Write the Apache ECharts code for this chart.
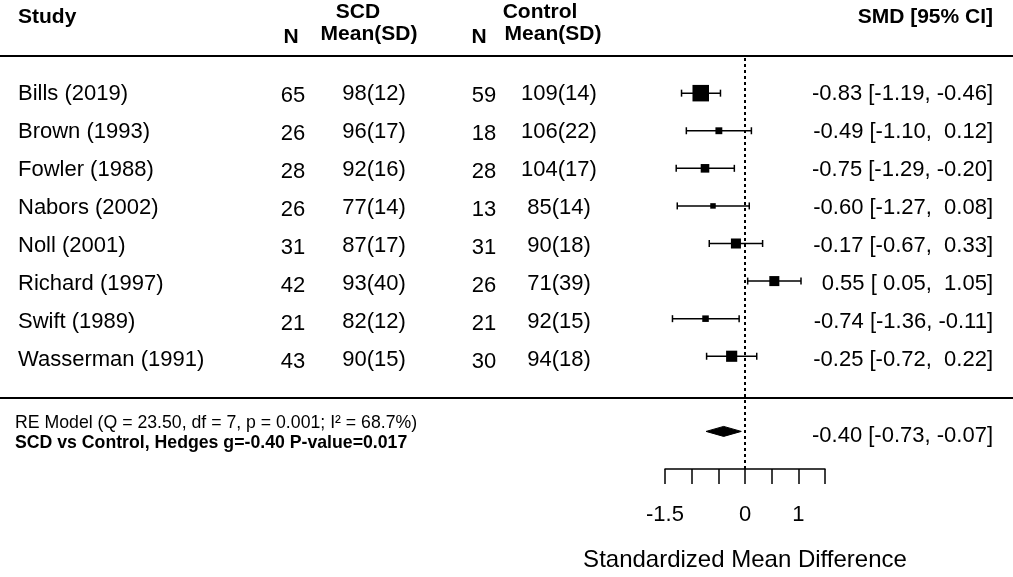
<!DOCTYPE html>
<html lang="en">
<head>
<meta charset="utf-8">
<title>SCD vs Control forest plot</title>
<script src="https://cdn.jsdelivr.net/npm/echarts@6/dist/echarts.min.js"></script>
<style>
  html, body { margin: 0; padding: 0; background: #fff; }
  #main { width: 1013px; height: 577px; }
</style>
</head>
<body>
<div id="main"></div>
<script>
// study data
var studies = ['Bills (2019)', 'Brown (1993)', 'Fowler (1988)', 'Nabors (2002)',
               'Noll (2001)', 'Richard (1997)', 'Swift (1989)', 'Wasserman (1991)'];
var nScd    = [65, 26, 28, 26, 31, 42, 21, 43];
var meanScd = [98, 96, 92, 77, 87, 93, 82, 90];
var sdScd   = [12, 17, 16, 14, 17, 40, 12, 15];
var nCtl    = [59, 18, 28, 13, 31, 26, 21, 30];
var meanCtl = [109, 106, 104, 85, 90, 71, 92, 94];
var sdCtl   = [14, 22, 17, 14, 18, 39, 15, 18];
var smd     = [-0.83, -0.49, -0.75, -0.60, -0.17, 0.55, -0.74, -0.25];
var ciLow   = [-1.19, -1.10, -1.29, -1.27, -0.67, 0.05, -1.36, -0.72];
var ciHigh  = [-0.46, 0.12, -0.20, 0.08, 0.33, 1.05, -0.11, 0.22];
// pooled RE estimate: [estimate, lower, upper]
var pooled  = [-0.40, -0.73, -0.07];
var tickLabels = ['-1.5', '0', '1'];
var modelText = 'RE Model (Q = 23.50, df = 7, p = 0.001; I\u00b2 = 68.7%)';
var testText  = 'SCD vs Control, Hedges g=-0.40 P-value=0.017';

var FONT = '"Liberation Sans", Arial, sans-serif';

// rows k..1 from top, like metafor
var rows = studies.map(function (s, i) { return studies.length - i; });

function fmt(v) { return (v < 0 ? '' : ' ') + v.toFixed(2); }
function ciText(e, l, u) { return fmt(e) + ' [' + fmt(l) + ', ' + fmt(u) + ']'; }

// square size linear in 1/se, scaled 0.5..1.5 (metafor default)
var invSe = ciLow.map(function (lb, i) { return 3.92 / (ciHigh[i] - lb); });
var wMin = Math.min.apply(null, invSe), wMax = Math.max.apply(null, invSe);
var psize = invSe.map(function (w) { return 0.5 + (w - wMin) / (wMax - wMin); });

// text column drawn on the full-width helper grid
function textSeries(texts, x, ys, st) {
    return {
        type: 'custom', xAxisIndex: 1, yAxisIndex: 1, silent: true,
        data: texts.map(function (t, i) { return [x, ys[i]]; }),
        renderItem: function (params, api) {
            var p = api.coord([api.value(0), api.value(1)]);
            return {
                type: 'text', x: p[0], y: p[1] + (st.dy || 0),
                style: {
                    text: texts[params.dataIndex], fill: '#000',
                    fontFamily: FONT, fontSize: st.size || 22,
                    fontWeight: st.bold ? 'bold' : 'normal',
                    align: st.align, verticalAlign: 'middle'
                }
            };
        }
    };
}

function header(text, x, y, align) {
    return textSeries([text], x, [y], { bold: true, size: 21, align: align });
}

function rule(r) {
    return {
        type: 'line', xAxisIndex: 1, yAxisIndex: 1, silent: true, symbol: 'none',
        data: [[0, r], [1013, r]],
        lineStyle: { color: '#000', width: 2 }
    };
}

var myChart = echarts.init(document.getElementById('main'));

var option = {
    animation: false,
    backgroundColor: '#fff',
    grid: [
        { left: 665, width: 160, top: 18, height: 456 },
        { left: 0, width: 1013, top: 18, height: 456 }
    ],
    xAxis: [{
        type: 'value', gridIndex: 0, min: -1.5, max: 1.5, interval: 0.5,
        splitLine: { show: false },
        axisLine: { onZero: false, lineStyle: { color: '#000', width: 1.5 } },
        axisTick: { length: 15, lineStyle: { color: '#000', width: 1.5 } },
        axisLabel: {
            interval: 0, margin: 35, color: '#000', fontSize: 22, fontFamily: FONT,
            formatter: function (v) {
                var s = String(v);
                return tickLabels.indexOf(s) >= 0 ? s : '';
            }
        },
        name: 'Standardized Mean Difference', nameLocation: 'middle', nameGap: 79,
        nameTextStyle: { color: '#000', fontSize: 24, fontFamily: FONT }
    }, {
        type: 'value', gridIndex: 1, min: 0, max: 1013, show: false
    }],
    yAxis: [
        { type: 'value', gridIndex: 0, min: -2, max: 10, show: false },
        { type: 'value', gridIndex: 1, min: -2, max: 10, show: false }
    ],
    series: [
        rule(9),
        rule(0),
        // reference line at 0
        {
            type: 'line', xAxisIndex: 0, yAxisIndex: 0, silent: true, symbol: 'none',
            data: [[0, -2], [0, 9]],
            lineStyle: { color: '#000', width: 2, type: [3, 3] }
        },
        // study CIs and squares
        {
            type: 'custom', xAxisIndex: 0, yAxisIndex: 0, silent: true,
            data: rows.map(function (r, i) { return [smd[i], r, ciLow[i], ciHigh[i], psize[i]]; }),
            renderItem: function (params, api) {
                var c = api.coord([api.value(0), api.value(1)]);
                var l = api.coord([api.value(2), api.value(1)]);
                var u = api.coord([api.value(3), api.value(1)]);
                var s = api.value(4) * 11;
                var cap = 3.5;
                var ls = { stroke: '#000', lineWidth: 1.5 };
                return {
                    type: 'group', children: [
                        { type: 'line', shape: { x1: l[0], y1: c[1], x2: u[0], y2: c[1] }, style: ls },
                        { type: 'line', shape: { x1: l[0], y1: c[1] - cap, x2: l[0], y2: c[1] + cap }, style: ls },
                        { type: 'line', shape: { x1: u[0], y1: c[1] - cap, x2: u[0], y2: c[1] + cap }, style: ls },
                        { type: 'rect', shape: { x: c[0] - s / 2, y: c[1] - s / 2, width: s, height: s }, style: { fill: '#000' } }
                    ]
                };
            }
        },
        // pooled diamond
        {
            type: 'custom', xAxisIndex: 0, yAxisIndex: 0, silent: true,
            data: [[pooled[0], -1, pooled[1], pooled[2]]],
            renderItem: function (params, api) {
                var c = api.coord([api.value(0), api.value(1)]);
                var l = api.coord([api.value(2), api.value(1)]);
                var u = api.coord([api.value(3), api.value(1)]);
                var h = 5;
                return {
                    type: 'polygon',
                    shape: { points: [[l[0], c[1]], [c[0], c[1] - h], [u[0], c[1]], [c[0], c[1] + h]] },
                    style: { fill: '#000', stroke: '#000', lineWidth: 1 }
                };
            }
        },
        // header
        header('Study', 18, 10.03, 'left'),
        header('SCD', 358, 10.15, 'center'),
        header('Control', 540, 10.16, 'center'),
        header('N', 291, 9.5, 'center'),
        header('Mean(SD)', 369, 9.58, 'center'),
        header('N', 479, 9.5, 'center'),
        header('Mean(SD)', 553, 9.58, 'center'),
        header('SMD [95% CI]', 993, 10.03, 'right'),
        // study rows
        textSeries(studies, 18, rows, { align: 'left' }),
        textSeries(nScd.map(String), 293, rows, { align: 'center', dy: 2 }),
        textSeries(meanScd.map(function (m, i) { return m + '(' + sdScd[i] + ')'; }), 374, rows, { align: 'center' }),
        textSeries(nCtl.map(String), 484, rows, { align: 'center', dy: 2 }),
        textSeries(meanCtl.map(function (m, i) { return m + '(' + sdCtl[i] + ')'; }), 559, rows, { align: 'center' }),
        textSeries(smd.map(function (e, i) { return ciText(e, ciLow[i], ciHigh[i]); }), 993, rows, { align: 'right' }),
        // summary
        textSeries([ciText(pooled[0], pooled[1], pooled[2])], 993, [-1], { align: 'right' }),
        textSeries([modelText], 15, [-0.66], { align: 'left', size: 17.7 }),
        textSeries([testText], 15, [-1.18], { align: 'left', size: 17.7, bold: true })
    ]
};

myChart.setOption(option);
window.onresize = myChart.resize;
</script>
</body>
</html>
